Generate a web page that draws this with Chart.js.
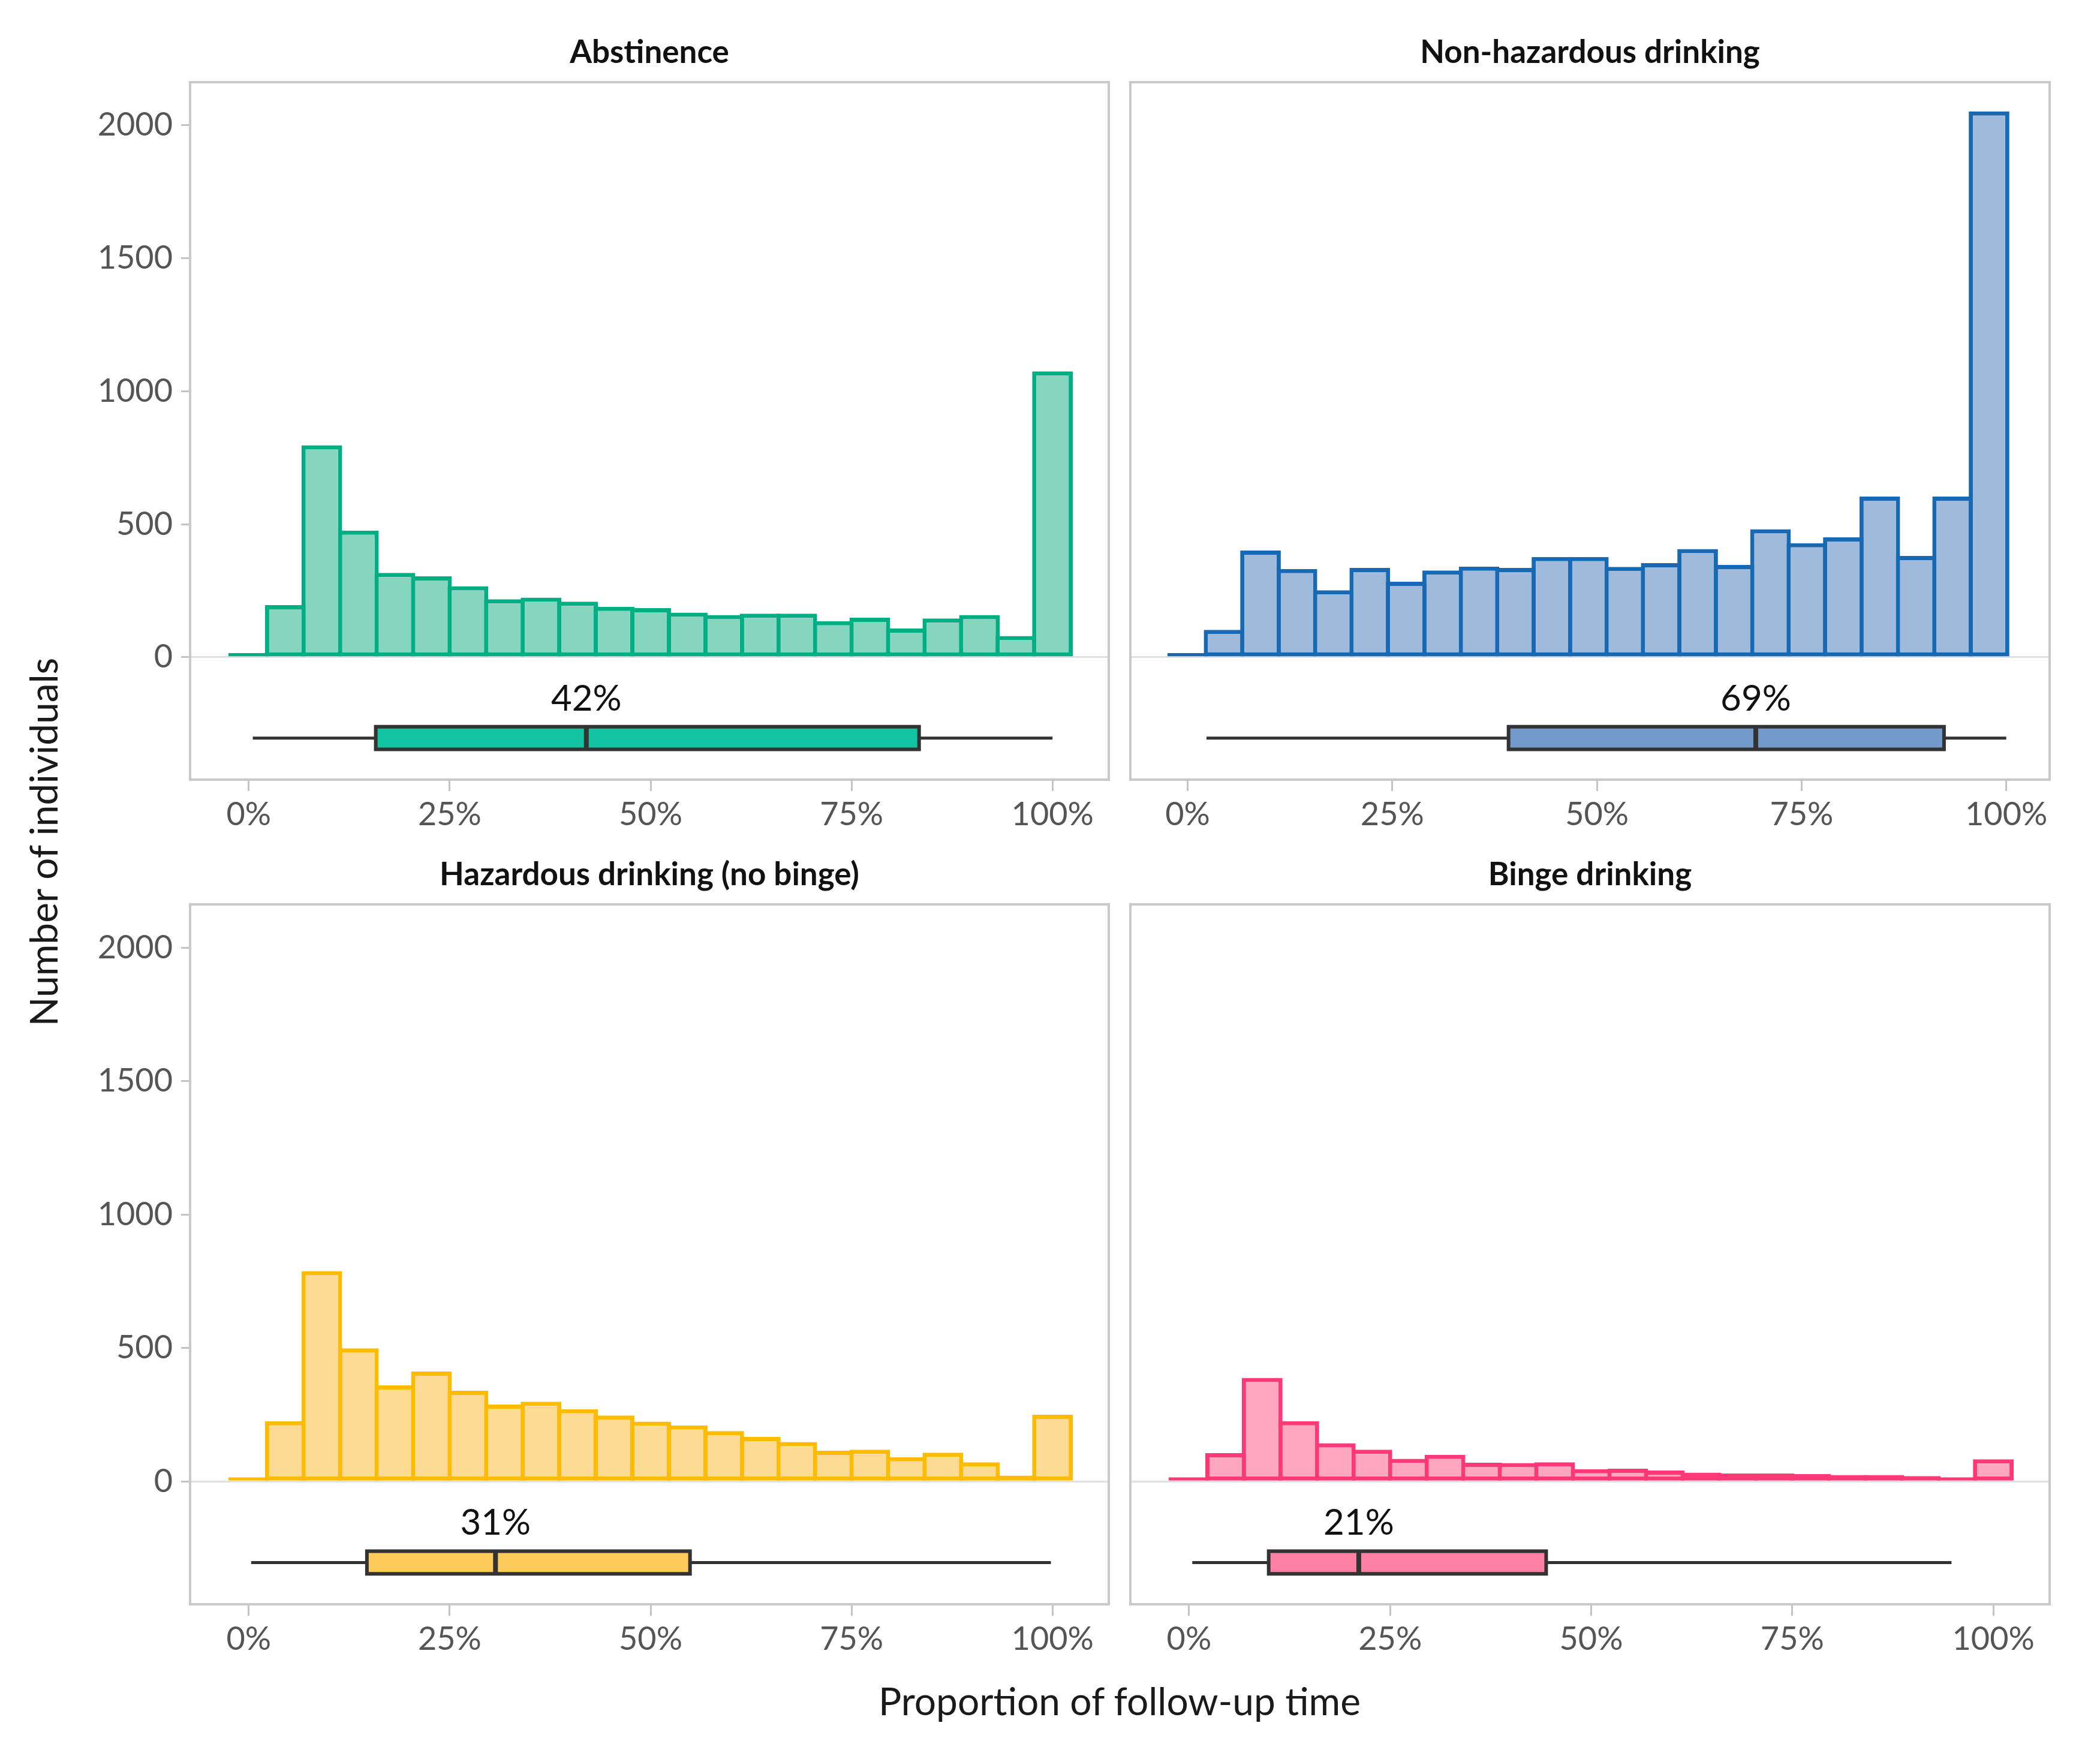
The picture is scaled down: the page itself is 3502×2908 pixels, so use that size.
<!DOCTYPE html>
<html>
<head>
<meta charset="utf-8">
<script src="https://cdn.jsdelivr.net/npm/chart.js@4.4.1/dist/chart.umd.min.js"></script>
<style>
  html, body { margin: 0; padding: 0; background: #fff; }
  body { width: 3502px; height: 2908px; position: relative; overflow: hidden; font-family: Lato, sans-serif; }
  .panel { position: absolute; }
  .axis-title { position: absolute; font-size: 64px; color: #1a1a1a; white-space: nowrap; }
  #y-title { left: 71px; top: 1404px; transform: translate(-50%, -50%) rotate(-90deg); }
  #x-title { left: 1867px; top: 2835px; transform: translate(-50%, -50%); }
</style>
</head>
<body>
<div class="panel" style="left:110px;top:61px;width:1745px;height:1349px"><canvas id="c1"></canvas></div>
<div class="panel" style="left:1879px;top:61px;width:1545px;height:1349px"><canvas id="c2"></canvas></div>
<div class="panel" style="left:110px;top:1432px;width:1745px;height:1353px"><canvas id="c3"></canvas></div>
<div class="panel" style="left:1879px;top:1432px;width:1545px;height:1353px"><canvas id="c4"></canvas></div>
<div class="axis-title" id="y-title">Number of individuals</div>
<div class="axis-title" id="x-title">Proportion of follow-up time</div>
<script>
// ================= DATA =================
// bin centres (% of follow-up time); non-hazardous panel has slightly narrower bins
const binCenters = [0, 4.55, 9.09, 13.64, 18.18, 22.73, 27.27, 31.82, 36.36, 40.91, 45.45, 50,
  54.55, 59.09, 63.64, 68.18, 72.73, 77.27, 81.82, 86.36, 90.91, 95.45, 100];
const binCentersNonHaz = [0, 4.45, 8.9, 13.35, 17.8, 22.25, 26.7, 31.15, 35.6, 40.05, 44.5, 48.95,
  53.4, 57.85, 62.3, 66.75, 71.2, 75.65, 80.1, 84.55, 89, 93.45, 97.9];

const abstinence = [4, 196, 797, 476, 317, 304, 267, 218, 224, 209, 190, 185,
  168, 159, 164, 164, 136, 149, 108, 146, 159, 80, 1075];
const nonHazardous = [4, 103, 401, 332, 252, 336, 284, 326, 341, 336, 377, 377,
  340, 354, 407, 347, 481, 429, 451, 604, 381, 604, 2052];
const hazardous = [5, 226, 788, 499, 360, 412, 340, 288, 299, 271, 247, 224,
  210, 189, 167, 148, 115, 119, 91, 108, 72, 22, 250];
const binge = [5, 106, 388, 226, 143, 119, 85, 100, 70, 69, 72, 46,
  48, 41, 33, 30, 30, 28, 24, 24, 20, 9, 83];

// boxplot: whisker low, q1, median, q3, whisker high
const boxAbstinence = [0.5, 15.8, 42.0, 83.4, 100];
const boxNonHazardous = [2.3, 39.2, 69.4, 92.4, 100];
const boxHazardous = [0.3, 14.7, 30.7, 54.9, 99.8];
const boxBinge = [0.4, 9.9, 21.1, 44.4, 94.8];

const medianLabels = ["42%", "69%", "31%", "21%"];
const panelTitles = ["Abstinence", "Non-hazardous drinking", "Hazardous drinking (no binge)", "Binge drinking"];
const yTicks = [0, 500, 1000, 1500, 2000];
const xTicks = [0, 25, 50, 75, 100];

// vertical placement of the boxplot under the histogram (in count units)
const BOX_TOP = -261, BOX_BOTTOM = -346, WHISKER_Y = -304, LABEL_Y = -157;
const Y_MIN = -460, Y_MAX = 2162;

const TICK_FONT = { family: "Lato", size: 54 };
const TICK_GREY = "#c4c4c4";

// ================= PLUGINS =================
const panelFrame = {
  id: "panelFrame",
  afterDatasetsDraw(chart) {
    const { ctx, chartArea: a } = chart;
    ctx.save();
    ctx.strokeStyle = "#c9c9c9";
    ctx.lineWidth = 4;
    ctx.strokeRect(a.left, a.top, a.right - a.left, a.bottom - a.top);
    ctx.restore();
  }
};

function medianText(text, value) {
  return {
    id: "medianText",
    afterDatasetsDraw(chart) {
      const ctx = chart.ctx;
      ctx.save();
      ctx.font = "60px Lato";
      ctx.fillStyle = "#111";
      ctx.textAlign = "center";
      ctx.textBaseline = "middle";
      ctx.fillText(text, chart.scales.x.getPixelForValue(value), chart.scales.y.getPixelForValue(LABEL_Y));
      ctx.restore();
    }
  };
}

// ================= PANELS =================
const panels = [
  { canvas: "c1", title: panelTitles[0], centers: binCenters, counts: abstinence, box: boxAbstinence,
    label: medianLabels[0], left: true, xMin: -7.3, xMax: 107.0,
    stroke: "#00ae84", fill: "#86d5bf", boxFill: "#12c3a1" },
  { canvas: "c2", title: panelTitles[1], centers: binCentersNonHaz, counts: nonHazardous, box: boxNonHazardous,
    label: medianLabels[1], left: false, xMin: -7.0, xMax: 105.3,
    stroke: "#1769b4", fill: "#a0badb", boxFill: "#729bcb" },
  { canvas: "c3", title: panelTitles[2], centers: binCenters, counts: hazardous, box: boxHazardous,
    label: medianLabels[2], left: true, xMin: -7.3, xMax: 107.0,
    stroke: "#ffbb00", fill: "#fddb94", boxFill: "#fecb5a" },
  { canvas: "c4", title: panelTitles[3], centers: binCenters, counts: binge, box: boxBinge,
    label: medianLabels[3], left: false, xMin: -7.3, xMax: 107.0,
    stroke: "#ff3878", fill: "#ffa7c1", boxFill: "#ff80a5" }
];

function makePanel(p) {
  const [lo, q1, med, q3, hi] = p.box;
  const bars = p.centers.map((x, i) => ({ x, y: p.counts[i] }));
  const outline = [
    { x: q1, y: BOX_TOP }, { x: q3, y: BOX_TOP }, { x: q3, y: BOX_BOTTOM },
    { x: q1, y: BOX_BOTTOM }, { x: q1, y: BOX_TOP }, { x: q3, y: BOX_TOP }
  ];

  return new Chart(document.getElementById(p.canvas).getContext("2d"), {
    type: "bar",
    data: {
      datasets: [
        { type: "line", data: [{ x: med, y: BOX_TOP }, { x: med, y: BOX_BOTTOM }],
          borderColor: "#333", borderWidth: 8, pointRadius: 0, order: 0 },
        { type: "line", data: outline, borderColor: "#333", borderWidth: 6,
          borderJoinStyle: "miter", pointRadius: 0, order: 1 },
        { type: "line", data: [{ x: q1, y: BOX_BOTTOM }, { x: q3, y: BOX_BOTTOM }],
          borderColor: "rgba(0,0,0,0)", pointRadius: 0,
          fill: { value: BOX_TOP }, backgroundColor: p.boxFill, order: 2 },
        { type: "line", data: [{ x: lo, y: WHISKER_Y }, { x: hi, y: WHISKER_Y }],
          borderColor: "#333", borderWidth: 5, pointRadius: 0, order: 3 },
        { type: "bar", data: bars, backgroundColor: p.fill, borderColor: p.stroke,
          borderWidth: 7, borderSkipped: false, barPercentage: 1.115, categoryPercentage: 1,
          minBarLength: 7, order: 4 }
      ]
    },
    options: {
      responsive: true,
      maintainAspectRatio: false,
      animation: false,
      layout: { padding: { right: 6 } },
      plugins: {
        legend: { display: false },
        tooltip: { enabled: false },
        title: {
          display: true,
          text: p.title,
          fullSize: false,
          color: "#111",
          font: { family: "Lato", size: 53, weight: "bold", lineHeight: 1 },
          padding: { top: 0, bottom: 23 }
        }
      },
      scales: {
        x: {
          type: "linear",
          min: p.xMin,
          max: p.xMax,
          offset: false,
          afterBuildTicks: s => { s.ticks = xTicks.map(v => ({ value: v })); },
          afterFit: s => { s.height = 110; },
          ticks: { callback: v => v + "%", font: TICK_FONT, color: "#555", padding: 7, maxRotation: 0, autoSkip: false },
          grid: { offset: false, color: "rgba(0,0,0,0)", drawTicks: true, tickLength: 19, tickColor: TICK_GREY, tickWidth: 3 },
          border: { display: false }
        },
        y: {
          min: Y_MIN,
          max: Y_MAX,
          afterBuildTicks: s => { s.ticks = yTicks.map(v => ({ value: v })); },
          afterFit: s => { s.width = p.left ? 207 : 6; },
          ticks: { display: p.left, callback: v => String(v), font: TICK_FONT, color: "#555", padding: 14 },
          grid: {
            color: ctx => (ctx.tick && ctx.tick.value === 0 ? "#e0e0e0" : "rgba(0,0,0,0)"),
            lineWidth: 3,
            drawTicks: p.left,
            tickLength: 15,
            tickColor: TICK_GREY,
            tickWidth: 3
          },
          border: { display: false }
        }
      }
    },
    plugins: [panelFrame, medianText(p.label, med)]
  });
}

panels.forEach(makePanel);
</script>
</body>
</html>
